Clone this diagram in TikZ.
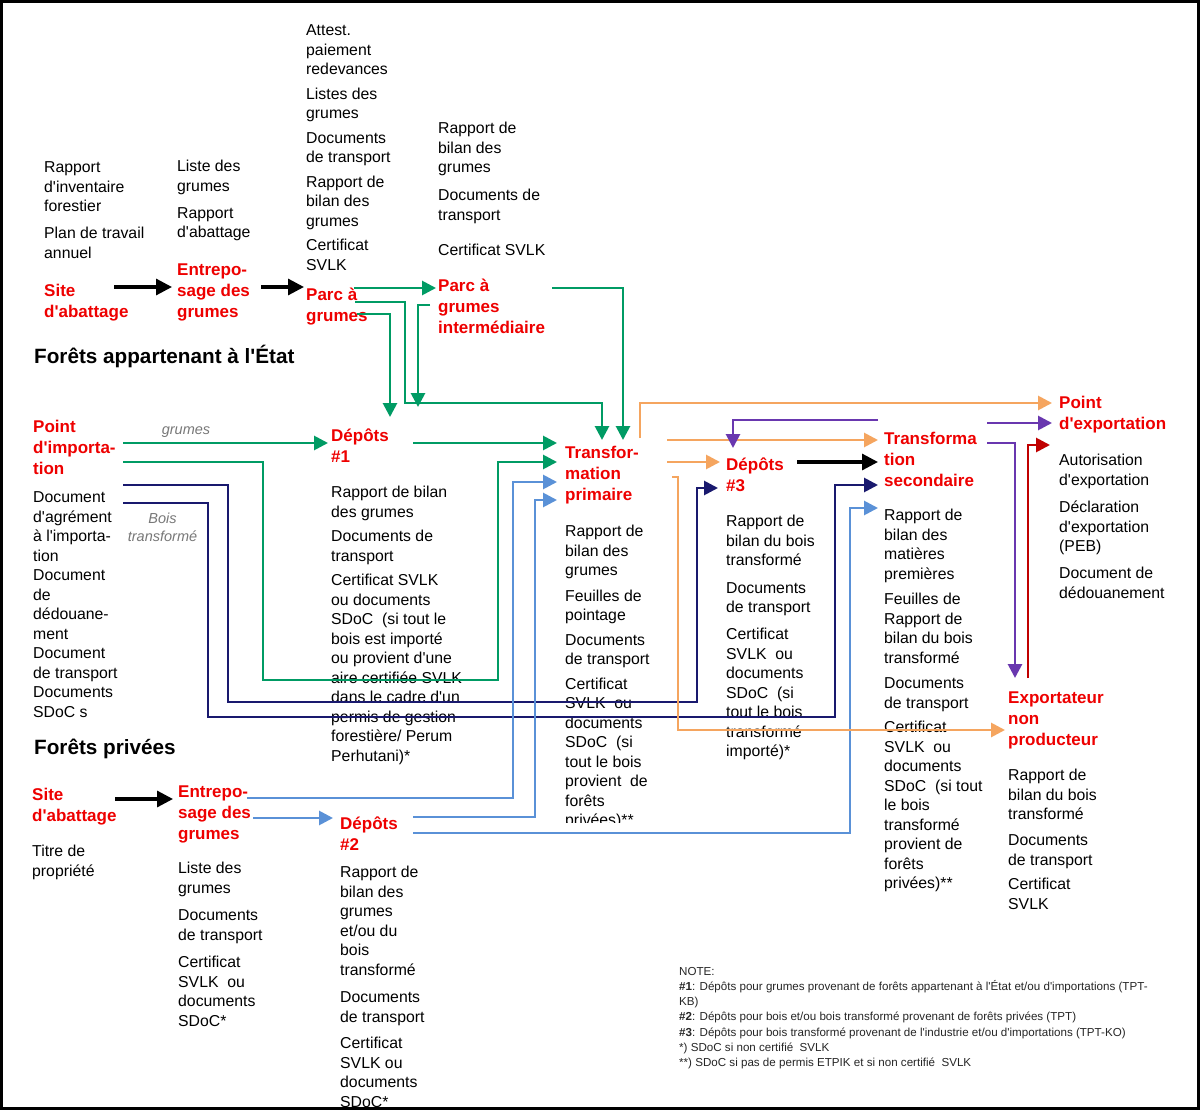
\documentclass[tikz,border=0pt]{standalone}
\usepackage{fontspec}
\setmainfont{Liberation Sans}[Ligatures=TeXOff]
\usetikzlibrary{arrows.meta}
\definecolor{myred}{RGB}{238,0,0}
\definecolor{mygreen}{RGB}{0,155,100}
\definecolor{myorange}{RGB}{245,165,95}
\definecolor{myblue}{RGB}{90,145,215}
\definecolor{mynavy}{RGB}{25,25,110}
\definecolor{mypurple}{RGB}{105,55,175}
\definecolor{mydarkred}{RGB}{192,0,0}
\definecolor{mygray}{RGB}{120,120,120}
\newcommand\fbody{\fontsize{15.8}{19.5}\selectfont}
\newcommand\fred{\fontsize{17}{21}\selectfont\bfseries}
\newcommand\fhead{\fontsize{20.7}{24}\selectfont\bfseries}
\newcommand\fgray{\fontsize{14.5}{18}\selectfont\itshape}
\newcommand\fnote{\fontsize{11.6}{15.2}\selectfont}
\begin{document}
\begin{tikzpicture}[x=1pt,y=-1pt,
  txt/.style={anchor=north west, inner sep=0pt, align=left, font=\fbody},
  redlbl/.style={anchor=north west, inner sep=0pt, align=left, font=\fred, text=myred},
  headtxt/.style={anchor=north west, inner sep=0pt, font=\fhead},
  graytxt/.style={anchor=north, inner sep=0pt, align=center, font=\fgray, text=mygray},
  notetxt/.style={anchor=north west, inner sep=0pt, align=left, font=\fnote, text=black!85},
  conn/.style={line width=2.8pt, line join=miter, -{Triangle[length=14pt,width=14pt]}},
  kconn/.style={line width=3.2pt, draw=black, -{Triangle[length=16pt,width=16pt]}},
  gconn/.style={conn, draw=mygreen},
  nconn/.style={conn, draw=mynavy},
  bconn/.style={conn, draw=myblue},
  oconn/.style={conn, draw=myorange},
  pconn/.style={conn, draw=mypurple},
  dconn/.style={conn, draw=mydarkred}]
\useasboundingbox (0,0) rectangle (1200,1110);
\fill[white] (0,0) rectangle (1200,1110);

% ---------- State forests ----------
\node[txt] (t1) at (44,159) {\strut Rapport\\d'inventaire\\forestier\\[7.5pt]Plan de travail\\annuel};
\node[txt] (t2) at (177,158) {\strut Liste des\\grumes\\[7.5pt]Rapport\\d'abattage};
\node[txt] (t3) at (306,22) {\strut Attest.\\paiement\\redevances\\[5pt]Listes des\\grumes\\[5pt]Documents\\de transport\\[5pt]Rapport de\\bilan des\\grumes\\[5pt]Certificat\\SVLK};
\node[txt] (t4) at (438,120) {\strut Rapport de\\bilan des\\grumes\\[8.5pt]Documents de\\transport\\[16pt]Certificat SVLK};

\node[redlbl] (r1) at (44,281.4) {\strut Site\\d'abattage};
\node[redlbl] (r2) at (177,260.4) {\strut Entrepo-\\sage des\\grumes};
\node[redlbl] (r3) at (306,285.4) {\strut Parc à\\grumes};
\node[redlbl] (r4) at (438,276.4) {\strut Parc à\\grumes\\intermédiaire};
\node[headtxt] (h1) at (34,344.5) {\strut Forêts appartenant à l'État};

\node[redlbl] (r5) at (33,417.4) {\strut Point\\d'importa-\\tion};
\node[redlbl] (r6) at (331,426.4) {\strut Dépôts\\\#1};
\node[redlbl] (r7) at (565,443.4) {\strut Transfor-\\mation\\primaire};
\node[redlbl] (r8) at (726,455.4) {\strut Dépôts\\\#3};
\node[redlbl] (r9) at (884,429.4) {\strut Transforma\\tion\\secondaire};
\node[redlbl] (r10) at (1059,393.4) {\strut Point\\d'exportation};
\node[redlbl] (r11) at (1008,688.4) {\strut Exportateur\\non\\producteur};

\node[graytxt] (g1) at (186,421.6) {\strut grumes};
\node[graytxt] (g2) at (162.5,510.6) {\strut Bois\\transformé};

\node[txt] (b1) at (33,489) {\strut Document\\d'agrément\\à l'importa-\\tion\\Document\\de\\dédouane-\\ment\\Document\\de transport\\Documents\\SDoC s};
\node[txt] (b2) at (331,484) {\strut Rapport de bilan\\des grumes\\[5pt]Documents de\\transport\\[5pt]Certificat SVLK\\ou documents\\SDoC~ (si tout le\\bois est importé\\ou provient d'une\\aire certifiée SVLK\\dans le cadre d'un\\permis de gestion\\forestière/ Perum\\Perhutani)*};
\begin{scope}
\clip (560,500) rectangle (730,822);
\node[txt] (b3) at (565,523) {\strut Rapport de\\bilan des\\grumes\\[6pt]Feuilles de\\pointage\\[5pt]Documents\\de transport\\[5pt]Certificat\\SVLK~ ou\\documents\\SDoC~ (si\\tout le bois\\provient~ de\\forêts\\privées)**};
\end{scope}
\node[txt] (b4) at (726,513) {\strut Rapport de\\bilan du bois\\transformé\\[8pt]Documents\\de transport\\[7.5pt]Certificat\\SVLK~ ou\\documents\\SDoC~ (si\\tout le bois\\transformé\\importé)*};
\node[txt] (b5) at (884,507) {\strut Rapport de\\bilan des\\matières\\premières\\[6pt]Feuilles de\\Rapport de\\bilan du bois\\transformé\\[6pt]Documents\\de transport\\[5pt]Certificat\\SVLK~ ou\\documents\\SDoC~ (si tout\\le bois\\transformé\\provient de\\forêts\\privées)**};
\node[txt] (b6) at (1059,452) {\strut Autorisation\\d'exportation\\[8pt]Déclaration\\d'exportation\\(PEB)\\[7.5pt]Document de\\dédouanement};
\node[txt] (b7) at (1008,767) {\strut Rapport de\\bilan du bois\\transformé\\[6.5pt]Documents\\de transport\\[5pt]Certificat\\SVLK};

% ---------- Private forests ----------
\node[headtxt] (h2) at (34,737.5) {\strut Forêts privées};
\node[redlbl] (r12) at (32,785.4) {\strut Site\\d'abattage};
\node[redlbl] (r13) at (178,782.4) {\strut Entrepo-\\sage des\\grumes};
\node[redlbl] (r14) at (340,814.4) {\strut Dépôts\\\#2};
\node[txt] (b8) at (32,843) {\strut Titre de\\propriété};
\node[txt] (b9) at (178,860) {\strut Liste des\\grumes\\[8pt]Documents\\de transport\\[8pt]Certificat\\SVLK~ ou\\documents\\SDoC*};
\node[txt] (b10) at (340,864) {\strut Rapport de\\bilan des\\grumes\\et/ou du\\bois\\transformé\\[8pt]Documents\\de transport\\[7pt]Certificat\\SVLK ou\\documents\\SDoC*};

\node[notetxt] (note) at (679,964.5) {\strut NOTE:\\\textbf{\#1}: Dépôts pour grumes provenant de forêts appartenant à l'État et/ou d'importations (TPT-\\KB)\\\textbf{\#2}: Dépôts pour bois et/ou bois transformé provenant de forêts privées (TPT)\\\textbf{\#3}: Dépôts pour bois transformé provenant de l'industrie et/ou d'importations (TPT-KO)\\*) SDoC si non certifié~ SVLK\\**) SDoC si pas de permis ETPIK et si non certifié~ SVLK};

% ---------- connector end points ----------
\coordinate (r1-o) at (114,287);   \coordinate (r2-i) at (172,287);
\coordinate (r2-o) at (261,287);   \coordinate (r3-i) at (304,287);
\coordinate (r12-o) at (115,799);  \coordinate (r13-i) at (173,799);
\coordinate (r8-o) at (797,462);   \coordinate (r9-i2) at (878,462);

\coordinate (r3-o1) at (354,288);  \coordinate (r4-i) at (436,288);
\coordinate (r3-o2) at (355,302);  \coordinate (r7-t1) at (602,440);
\coordinate (r3-o3) at (357,314);  \coordinate (r6-t1) at (390,417);
\coordinate (r4-o1) at (430,305);  \coordinate (r6-t2) at (418,407);
\coordinate (r4-o2) at (552,288);  \coordinate (r7-t2) at (623,440);
\coordinate (r5-o1) at (123,443);  \coordinate (r6-i) at (328,443);
\coordinate (r5-o2) at (123,462);  \coordinate (r7-i2) at (557,462);
\coordinate (r6-o) at (413,443);   \coordinate (r7-i1) at (557,443);
\coordinate (r5-o3) at (123,485);  \coordinate (r8-i2) at (718,488);
\coordinate (r5-o4) at (123,503);  \coordinate (r9-i3) at (878,485);

\coordinate (r13-o1) at (247,798); \coordinate (r7-i3) at (557,482);
\coordinate (r13-o2) at (253,818); \coordinate (r14-i) at (333,818);
\coordinate (r14-o1) at (413,817); \coordinate (r7-i4) at (557,500);
\coordinate (r14-o2) at (413,833); \coordinate (r9-i4) at (878,508);

\coordinate (r7-o1) at (640,438);  \coordinate (r10-i1) at (1052,403);
\coordinate (r7-o2) at (667,440);  \coordinate (r9-i1) at (878,440);
\coordinate (r7-o3) at (667,462);  \coordinate (r8-i1) at (720,462);
\coordinate (r7-o4) at (672,477);  \coordinate (r11-i) at (1005,730);

\coordinate (r9-o1) at (878,420);  \coordinate (r8-t) at (733,448);
\coordinate (r9-o2) at (987,423);  \coordinate (r10-i2) at (1052,423);
\coordinate (r9-o3) at (987,443);  \coordinate (r11-t) at (1015,678);
\coordinate (r11-o) at (1028,678); \coordinate (r10-i3) at (1050,445);

% ---------- connectors ----------
\draw[kconn] (r1-o) -- (r2-i);
\draw[kconn] (r2-o) -- (r3-i);
\draw[kconn] (r12-o) -- (r13-i);
\draw[kconn] (r8-o) -- (r9-i2);

\draw[gconn] (r3-o1) -- (r4-i);
\draw[gconn] (r3-o2) -- (405,302) -- (405,403) -- (602,403) -- (r7-t1);
\draw[gconn] (r3-o3) -- (390,314) -- (r6-t1);
\draw[gconn] (r4-o1) -- (418,305) -- (r6-t2);
\draw[gconn] (r4-o2) -- (623,288) -- (r7-t2);
\draw[gconn] (r5-o1) -- (r6-i);
\draw[gconn] (r5-o2) -- (263,462) -- (263,680) -- (498,680) -- (498,462) -- (r7-i2);
\draw[gconn] (r6-o) -- (r7-i1);

\draw[nconn] (r5-o3) -- (228,485) -- (228,702) -- (697,702) -- (697,488) -- (r8-i2);
\draw[nconn] (r5-o4) -- (208,503) -- (208,717) -- (835,717) -- (835,485) -- (r9-i3);

\draw[bconn] (r13-o1) -- (513,798) -- (513,482) -- (r7-i3);
\draw[bconn] (r13-o2) -- (r14-i);
\draw[bconn] (r14-o1) -- (535,817) -- (535,500) -- (r7-i4);
\draw[bconn] (r14-o2) -- (850,833) -- (850,508) -- (r9-i4);

\draw[oconn] (r7-o1) -- (640,403) -- (r10-i1);
\draw[oconn] (r7-o2) -- (r9-i1);
\draw[oconn] (r7-o3) -- (r8-i1);
\draw[oconn] (r7-o4) -- (678,477) -- (678,730) -- (r11-i);

\draw[pconn] (r9-o1) -- (733,420) -- (r8-t);
\draw[pconn] (r9-o2) -- (r10-i2);
\draw[pconn] (r9-o3) -- (1015,443) -- (r11-t);
\draw[dconn] (r11-o) -- (1028,445) -- (r10-i3);

\draw[line width=3pt] (1.5,1.5) rectangle (1198.5,1108.5);
\end{tikzpicture}
\end{document}
